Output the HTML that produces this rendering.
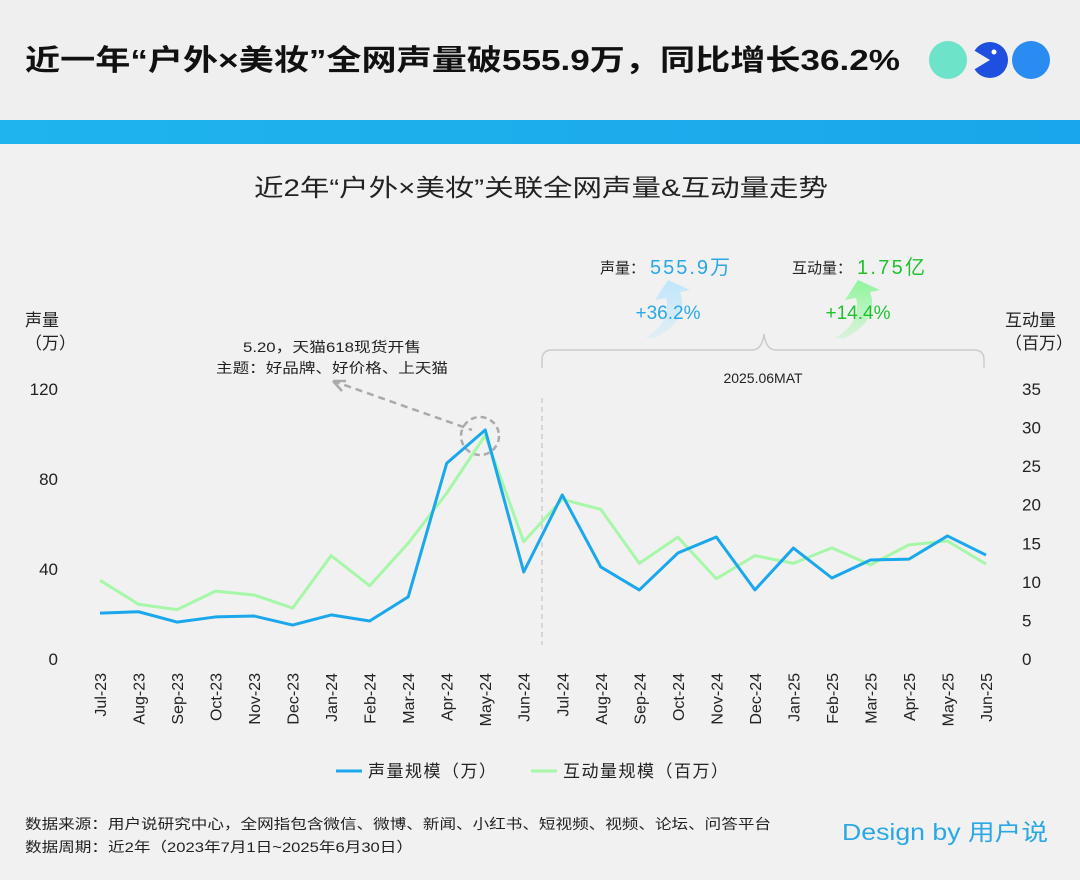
<!DOCTYPE html>
<html><head><meta charset="utf-8"><style>
body{margin:0;width:1080px;height:880px;background:#f1f1f1;font-family:"Liberation Sans","Noto Sans CJK SC",sans-serif;overflow:hidden}
svg{position:absolute;left:0;top:0}
</style></head><body>
<svg id="c" width="1080" height="880">
<defs>
<linearGradient id="band" x1="0" x2="1"><stop offset="0" stop-color="#1fb4ee"/><stop offset="1" stop-color="#1aa6ea"/></linearGradient>
<linearGradient id="ab" x1="0" y1="1" x2="0" y2="0"><stop offset="0" stop-color="#bfe6fb" stop-opacity="0.3"/><stop offset="1" stop-color="#bfe6fb"/></linearGradient>
<linearGradient id="ag" x1="0" y1="1" x2="0" y2="0"><stop offset="0" stop-color="#9ff5a8" stop-opacity="0.3"/><stop offset="1" stop-color="#8ef59a"/></linearGradient>
</defs>
<rect x="0" y="0" width="1080" height="120" fill="#efefef"/>
<rect x="0" y="120" width="1080" height="24" fill="url(#band)"/>
<text x="25" y="70" font-size="29" font-weight="bold" fill="#111" textLength="875" lengthAdjust="spacingAndGlyphs">近一年“户外×美妆”全网声量破555.9万，同比增长36.2%</text>
<g>
<circle cx="948" cy="60" r="19" fill="#6de3c9"/>
<circle cx="990" cy="60" r="18" fill="#1f4fe0"/>
<path d="M990 60 L970 48 L970 72 Z" fill="#efefef"/>
<circle cx="994" cy="52" r="2.5" fill="#fff"/>
<circle cx="1031" cy="60" r="19" fill="#2a8bf0"/>
</g>
<text x="254" y="196" font-size="24" fill="#222" textLength="574" lengthAdjust="spacingAndGlyphs">近2年“户外×美妆”关联全网声量&amp;互动量走势</text>
<text x="25" y="326" font-size="17" fill="#222">声量</text>
<text x="25" y="349" font-size="17" fill="#222">（万）</text>
<text x="1005" y="326" font-size="17" fill="#222">互动量</text>
<text x="1005" y="349" font-size="17" fill="#222">（百万）</text>
<path d="M333 381 L472 430" stroke="#aaa" stroke-width="2.5" stroke-dasharray="7,5" fill="none"/>
<path d="M333 381 L346 381 M333 381 L342 391" stroke="#aaa" stroke-width="2.5" fill="none"/>
<circle cx="480" cy="436" r="19" fill="none" stroke="#aaa" stroke-width="2.5" stroke-dasharray="6,4"/>
<text x="243" y="352" font-size="14" fill="#222" textLength="178" lengthAdjust="spacingAndGlyphs">5.20，天猫618现货开售</text>
<text x="216" y="373" font-size="14" fill="#222" textLength="232" lengthAdjust="spacingAndGlyphs">主题：好品牌、好价格、上天猫</text>
<path d="M542 368 V360 Q542 350 552 350 L752 350 Q762 350 764 334 Q766 350 776 350 L974 350 Q984 350 984 360 V368" stroke="#ccc" stroke-width="1.5" fill="none"/>
<text x="763" y="383" font-size="14" text-anchor="middle" fill="#222">2025.06MAT</text>
<path d="M655 338 Q690 320 680 292 L690 290 L668 280 L655 300 L666 298 Q672 322 645 338 Z" fill="url(#ab)"/>
<path d="M845 338 Q880 320 870 292 L880 290 L858 280 L845 300 L856 298 Q862 322 835 338 Z" fill="url(#ag)"/>
<text x="600" y="273" font-size="15" fill="#222">声量：</text>
<text x="650" y="274" font-size="20" fill="#2aa8e6" textLength="80">555.9万</text>
<text x="668" y="319" font-size="19" text-anchor="middle" fill="#2aa8e6">+36.2%</text>
<text x="792" y="273" font-size="15" fill="#222">互动量：</text>
<text x="857" y="274" font-size="20" fill="#22c22e" textLength="68">1.75亿</text>
<text x="858" y="319" font-size="19" text-anchor="middle" fill="#22c22e">+14.4%</text>
<line x1="542" y1="398" x2="542" y2="645" stroke="#bbb" stroke-dasharray="5,4"/>
<g id="axes"></g><g id="series"></g>
<line x1="336" y1="771" x2="362" y2="771" stroke="#1aa7ec" stroke-width="3"/>
<text x="368" y="777" font-size="17" fill="#222" textLength="128">声量规模（万）</text>
<line x1="531" y1="771" x2="557" y2="771" stroke="#a6f7a8" stroke-width="3"/>
<text x="563" y="777" font-size="17" fill="#222" textLength="165">互动量规模（百万）</text>
<text x="25" y="829" font-size="14" fill="#222" textLength="746" lengthAdjust="spacingAndGlyphs">数据来源：用户说研究中心，全网指包含微信、微博、新闻、小红书、短视频、视频、论坛、问答平台</text>
<text x="25" y="852" font-size="14" fill="#222" textLength="388" lengthAdjust="spacingAndGlyphs">数据周期：近2年（2023年7月1日~2025年6月30日）</text>
<text x="842" y="840" font-size="23" fill="#2aa8e6" textLength="206" lengthAdjust="spacingAndGlyphs">Design by 用户说</text>
</svg>
<script>
const categories=["Jul-23","Aug-23","Sep-23","Oct-23","Nov-23","Dec-23","Jan-24","Feb-24","Mar-24","Apr-24","May-24","Jun-24","Jul-24","Aug-24","Sep-24","Oct-24","Nov-24","Dec-24","Jan-25","Feb-25","Mar-25","Apr-25","May-25","Jun-25"];
const volumeValues=[20.4,21,16.4,18.7,19.1,15.1,19.6,16.9,27.6,87,101.8,38.7,72.9,40.9,30.7,47.1,54.2,30.7,49.3,36,44,44.4,54.7,46.2];
const interactionValues=[10.2,7.1,6.4,8.8,8.3,6.6,13.4,9.5,15,21.5,29,15.2,20.7,19.4,12.4,15.8,10.4,13.4,12.4,14.4,12.2,14.8,15.3,12.3];
const leftTicks=[0,40,80,120];
const rightTicks=[0,5,10,15,20,25,30,35];
const NS="http://www.w3.org/2000/svg";
const x=i=>100+i*(886/(categories.length-1));
const yL=v=>659-v*270/120;
const yR=v=>659-v*270/35;
function el(t,a,p,txt){const e=document.createElementNS(NS,t);for(const k in a)e.setAttribute(k,a[k]);if(txt!=null)e.textContent=txt;p.appendChild(e);return e;}
const ax=document.getElementById('axes'),se=document.getElementById('series');
leftTicks.forEach(v=>{const t=el('text',{x:58,y:yL(v)+6,'font-size':17,'text-anchor':'end',fill:'#222'},ax,v);

});
rightTicks.forEach(v=>{const t=el('text',{x:1022,y:yR(v)+6,'font-size':17,fill:'#222'},ax,v);

});
categories.forEach((c,i)=>{const t=el('text',{x:0,y:0,'font-size':16,'text-anchor':'end',fill:'#222',transform:`translate(${x(i)+6},${673}) rotate(-90)`},ax,c);

});
const g=el('path',{d:interactionValues.map((v,i)=>(i?'L':'M')+x(i)+' '+yR(v)).join(' '),fill:'none',stroke:'#a6f7a8','stroke-width':3,'stroke-linejoin':'round'},se);


const b=el('path',{d:volumeValues.map((v,i)=>(i?'L':'M')+x(i)+' '+yL(v)).join(' '),fill:'none',stroke:'#1aa7ec','stroke-width':3,'stroke-linejoin':'round'},se);


</script>
</body></html>
